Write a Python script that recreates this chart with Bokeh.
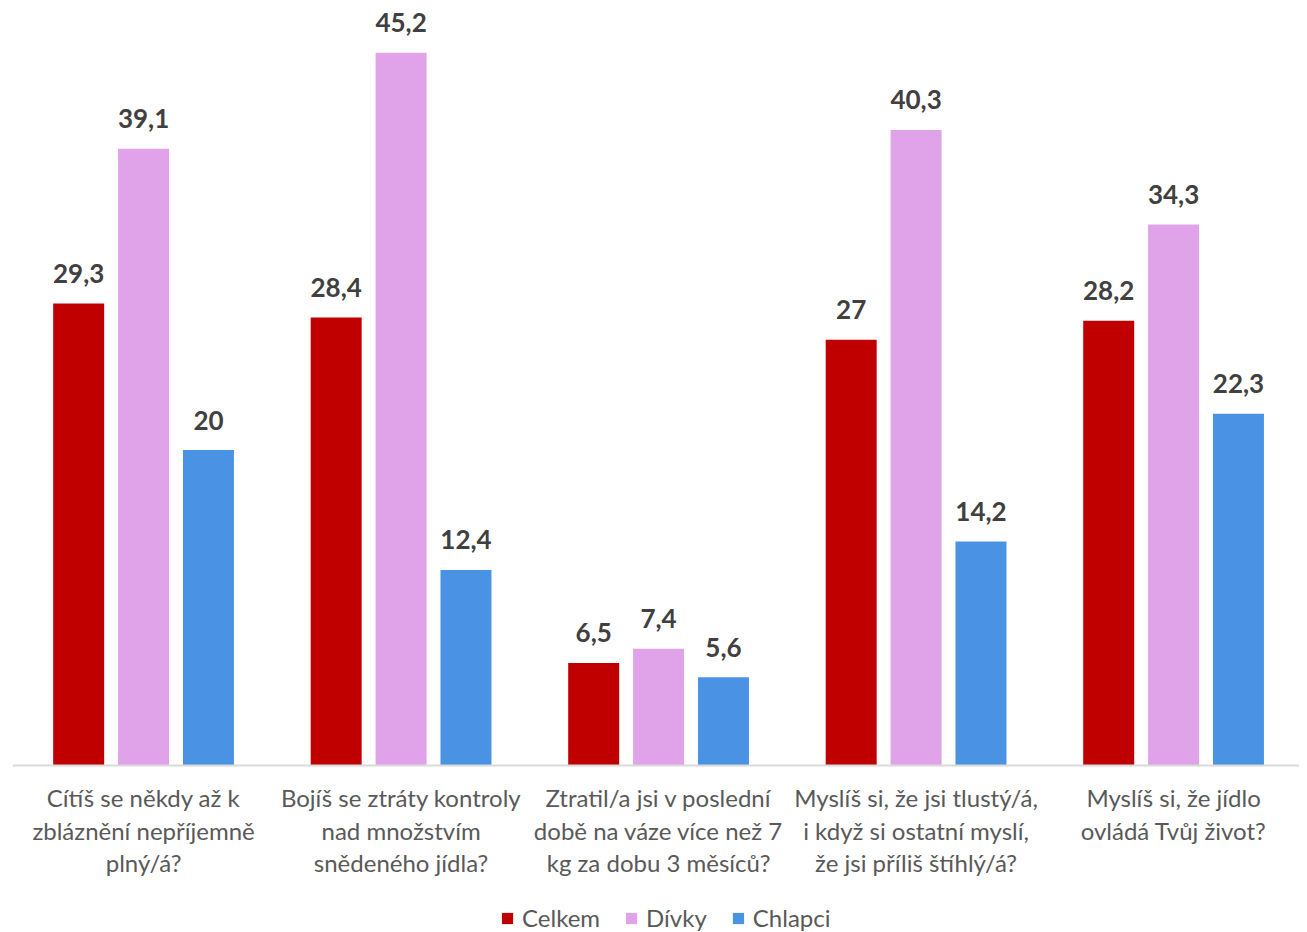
from bokeh.plotting import figure
from bokeh.models import ColumnDataSource, Range1d, Legend, LegendItem, Span
from bokeh.transform import dodge
from bokeh.core.properties import value
from bokeh.embed import file_html
from bokeh.resources import INLINE

categories = [
    "Cítíš se někdy až k\nzbláznění nepříjemně\nplný/á?",
    "Bojíš se ztráty kontroly\nnad množstvím\nsnědeného jídla?",
    "Ztratil/a jsi v poslední\ndobě na váze více než 7\nkg za dobu 3 měsíců?",
    "Myslíš si, že jsi tlustý/á,\ni když si ostatní myslí,\nže jsi příliš štíhlý/á?",
    "Myslíš si, že jídlo\novládá Tvůj život?",
]
series_names = ["Celkem", "Dívky", "Chlapci"]
celkem = [29.3, 28.4, 6.5, 27, 28.2]
divky = [39.1, 45.2, 7.4, 40.3, 34.3]
chlapci = [20, 12.4, 5.6, 14.2, 22.3]

colors = ["#C00000", "#E0A3EA", "#4A93E4"]


def fmt(v):
    s = ("%g" % v)
    return s.replace(".", ",")


idx = list(range(len(categories)))
src = ColumnDataSource(dict(
    x=idx,
    base=[0] * len(idx),
    cat=categories,
    celkem=celkem, divky=divky, chlapci=chlapci,
    l_celkem=[fmt(v) for v in celkem],
    l_divky=[fmt(v) for v in divky],
    l_chlapci=[fmt(v) for v in chlapci],
))

p = figure(frame_width=1287, frame_height=924, output_backend="svg", toolbar_location=None,
           x_range=Range1d(-0.509, 4.489), y_range=Range1d(-10.59, 48.0),
           x_axis_location=None, y_axis_location=None,
           min_border_left=12, min_border_right=0,
           min_border_top=8, min_border_bottom=0)
p.outline_line_color = None
p.xgrid.visible = False
p.ygrid.visible = False

# baseline (category axis line)
p.add_layout(Span(location=0, dimension="width", line_color="#D9D9D9", line_width=2))

offsets = [-0.252, 0.0, 0.252]
cols = ["celkem", "divky", "chlapci"]
renderers = []
for off, col, c in zip(offsets, cols, colors):
    r = p.vbar(x=dodge("x", off), top=col, width=0.198, bottom=0, source=src,
               fill_color=c, line_color=None)
    renderers.append(r)
    p.text(x=dodge("x", off), y=col, text="l_" + col, source=src,
           text_align="center", text_baseline="alphabetic", y_offset=-30,
           text_font=value("Lato"), text_font_style="bold",
           text_font_size="26px", text_color="#404040")

# category labels below the baseline
p.text(x="x", y="base", text="cat", source=src,
       text_align="center", text_baseline="top", y_offset=18,
       text_font=value("Lato"), text_font_size="24px", text_color="#595959",
       text_line_height=1.12)

legend = Legend(items=[LegendItem(label=n, renderers=[r]) for n, r in zip(series_names, renderers)],
                orientation="horizontal", location=(488, 0),
                glyph_width=14, glyph_height=14, label_standoff=8, spacing=24,
                label_height=20, label_text_baseline="middle",
                label_text_font="Lato", label_text_font_size="24px",
                label_text_color="#595959", border_line_color=None,
                background_fill_alpha=0, padding=0, margin=0)
p.add_layout(legend)

open("out.html", "w").write(file_html(p, INLINE))
